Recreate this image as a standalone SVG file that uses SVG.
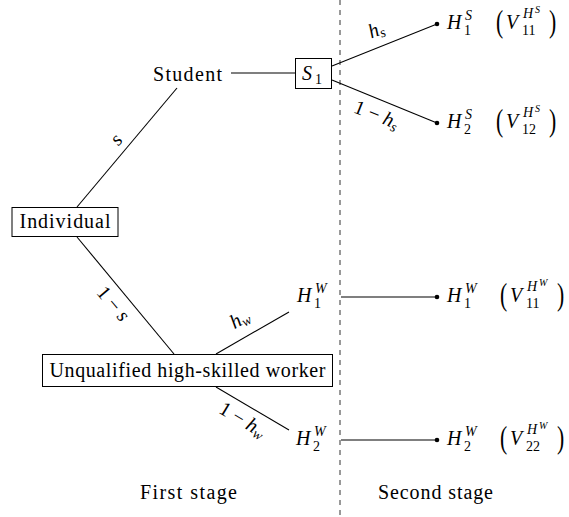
<svg xmlns="http://www.w3.org/2000/svg" width="569" height="517" viewBox="0 0 569 517" font-family="Liberation Serif, serif">
<style>
.t{font-size:20px;fill:#000}
.i{font-style:italic}
.sc{font-size:14px}
.ss{font-size:10px}
.box{fill:#fff;stroke:#000;stroke-width:1}
.ln{fill:none;stroke:#000;stroke-width:1.1}
.dash{fill:none;stroke:#333;stroke-width:1;stroke-dasharray:5 5}
.dot{fill:#000}
</style>
<rect width="569" height="517" fill="#fff"/>
<g id="connectors">
<path class="dash" d="M340,0 V517"/>
<path class="ln" d="M231,73 H295"/>
<path class="ln" d="M332,66 L437,24"/>
<path class="ln" d="M332,80 L437,123"/>
<path class="ln" d="M77,207 L177,88"/>
<path class="ln" d="M77,237 L174,354"/>
<path class="ln" d="M216,354 L289,312"/>
<path class="ln" d="M216,387 L289,430"/>
<path class="ln" d="M341,297 H437"/>
<path class="ln" d="M341,440 H437"/>
<circle class="dot" cx="437" cy="24" r="2.3"/>
<circle class="dot" cx="437" cy="123" r="2.3"/>
<circle class="dot" cx="437" cy="297" r="2.3"/>
<circle class="dot" cx="437" cy="440" r="2.3"/>
</g>
<g id="edge-labels">
<text transform="translate(118,141) rotate(-50)" text-anchor="middle" y="4" class="t i">s</text>
<text transform="translate(113,304) rotate(50)" text-anchor="middle" y="6" class="t">1 − <tspan class="i">s</tspan></text>
<text transform="translate(377,32) rotate(-21.6)" text-anchor="middle" y="4" class="t"><tspan class="i">h</tspan><tspan class="i sc" dy="3">s</tspan></text>
<text transform="translate(376,116) rotate(22)" text-anchor="middle" y="5" class="t">1 − <tspan class="i">h</tspan><tspan class="i sc" dy="3">s</tspan></text>
<text transform="translate(241,321) rotate(-30)" text-anchor="middle" y="4" class="t"><tspan class="i">h</tspan><tspan class="i sc" dy="3">w</tspan></text>
<text transform="translate(242,421) rotate(31)" text-anchor="middle" y="5" class="t">1 − <tspan class="i">h</tspan><tspan class="i sc" dy="3">w</tspan></text>
</g>
<g id="individual">
<rect class="box" x="12" y="207.5" width="106" height="29"/>
<text class="t" x="65" y="228" text-anchor="middle" textLength="91">Individual</text>
</g>
<g id="student">
<text class="t" x="187.5" y="81" text-anchor="middle" textLength="69">Student</text>
</g>
<g id="s1">
<rect class="box" x="295.5" y="58.5" width="36" height="30"/>
<text class="t"><tspan class="i" x="302" y="80">S</tspan><tspan class="sc" x="315" y="84">1</tspan></text>
</g>
<g id="unqualified">
<rect class="box" x="42.5" y="354.5" width="290" height="32"/>
<text class="t" x="187.5" y="377" text-anchor="middle" textLength="276">Unqualified high-skilled worker</text>
</g>
<g id="h1w-left">
<text class="t"><tspan class="i" x="297" y="301.5">H</tspan><tspan class="i sc" x="315" y="292.5">W</tspan><tspan class="sc" x="314" y="307.5">1</tspan></text>
</g>
<g id="h2w-left">
<text class="t"><tspan class="i" x="296" y="444.5">H</tspan><tspan class="i sc" x="314" y="435.5">W</tspan><tspan class="sc" x="313" y="450.5">2</tspan></text>
</g>
<g id="h1s">
<text class="t"><tspan class="i" x="447" y="28.5">H</tspan><tspan class="i sc" x="465" y="19.5">S</tspan><tspan class="sc" x="464" y="34.5">1</tspan></text>
<text class="t" transform="translate(496,32) scale(0.7,1)" style="font-size:31px">(</text>
<text class="t"><tspan class="i" x="506" y="28.5">V</tspan><tspan class="i sc" x="523" y="17.5">H</tspan><tspan class="i ss" x="535" y="12.5">S</tspan><tspan class="sc" x="522" y="34.5">11</tspan></text>
<text class="t" transform="translate(549,32) scale(0.7,1)" style="font-size:31px">)</text>
</g>
<g id="h2s">
<text class="t"><tspan class="i" x="447" y="127.5">H</tspan><tspan class="i sc" x="465" y="118.5">S</tspan><tspan class="sc" x="464" y="133.5">2</tspan></text>
<text class="t" transform="translate(496,131) scale(0.7,1)" style="font-size:31px">(</text>
<text class="t"><tspan class="i" x="506" y="127.5">V</tspan><tspan class="i sc" x="523" y="116.5">H</tspan><tspan class="i ss" x="535" y="111.5">S</tspan><tspan class="sc" x="522" y="133.5">12</tspan></text>
<text class="t" transform="translate(549,131) scale(0.7,1)" style="font-size:31px">)</text>
</g>
<g id="h1w">
<text class="t"><tspan class="i" x="447" y="301.5">H</tspan><tspan class="i sc" x="465" y="292.5">W</tspan><tspan class="sc" x="464" y="307.5">1</tspan></text>
<text class="t" transform="translate(500,305) scale(0.7,1)" style="font-size:31px">(</text>
<text class="t"><tspan class="i" x="510" y="301.5">V</tspan><tspan class="i sc" x="527" y="290.5">H</tspan><tspan class="i ss" x="539" y="285.5">W</tspan><tspan class="sc" x="526" y="307.5">11</tspan></text>
<text class="t" transform="translate(557,305) scale(0.7,1)" style="font-size:31px">)</text>
</g>
<g id="h2w">
<text class="t"><tspan class="i" x="447" y="444.5">H</tspan><tspan class="i sc" x="465" y="435.5">W</tspan><tspan class="sc" x="464" y="450.5">2</tspan></text>
<text class="t" transform="translate(500,448) scale(0.7,1)" style="font-size:31px">(</text>
<text class="t"><tspan class="i" x="510" y="444.5">V</tspan><tspan class="i sc" x="527" y="433.5">H</tspan><tspan class="i ss" x="539" y="428.5">W</tspan><tspan class="sc" x="526" y="450.5">22</tspan></text>
<text class="t" transform="translate(557,448) scale(0.7,1)" style="font-size:31px">)</text>
</g>
<g id="stages">
<text class="t" x="188.5" y="499" text-anchor="middle" textLength="97">First stage</text>
<text class="t" x="435.5" y="499" text-anchor="middle" textLength="115">Second stage</text>
</g>
</svg>
